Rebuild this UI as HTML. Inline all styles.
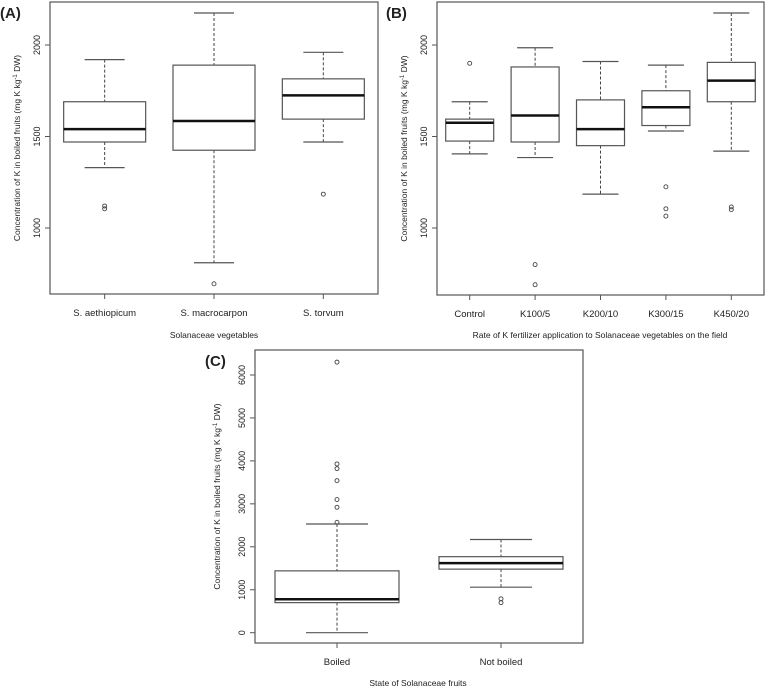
<!DOCTYPE html>
<html><head><meta charset="utf-8"><style>
body{margin:0;background:#fff;}
svg text{font-family:"Liberation Sans",sans-serif;fill:#222;}
</style></head><body>
<svg id="s" width="767" height="689" xmlns="http://www.w3.org/2000/svg"></svg>
<script>
// Panel A data
const catsA=["S. aethiopicum","S. macrocarpon","S. torvum"];
const statsA=[[1330,1470,1540,1690,1920],[810,1425,1585,1890,2175],[1470,1595,1725,1815,1960]];
const outA=[[1120,1105],[695],[1185]];
const ticksA=[1000,1500,2000];
// Panel B data
const catsB=["Control","K100/5","K200/10","K300/15","K450/20"];
const statsB=[[1405,1475,1575,1595,1690],[1385,1470,1615,1880,1985],[1185,1450,1540,1700,1910],[1530,1560,1660,1750,1890],[1420,1690,1805,1905,2175]];
const outB=[[1900],[800,690],[],[1225,1105,1065],[1115,1100]];
const ticksB=[1000,1500,2000];
// Panel C data
const catsC=["Boiled","Not boiled"];
const statsC=[[0,700,780,1440,2530],[1060,1480,1620,1770,2170]];
const outC=[[6300,3930,3820,3540,3100,2920,2570],[790,700]];
const ticksC=[0,1000,2000,3000,4000,5000,6000];

const svg=document.getElementById('s');
const NS="http://www.w3.org/2000/svg";
function mk(tag,at,name,parent){const e=document.createElementNS(NS,tag);for(const k in at)e.setAttribute(k,at[k]);


(parent||svg).appendChild(e);return e;}
function panel(p){
 const g=mk('g',{},'panel-'+p.id);
 const y=v=>p.y0+(p.v0-v)*p.k;
 const step=(p.x1-p.x0)/p.cats.length;
 const x=i=>p.x0+step*(i+0.5);
 mk('rect',{x:p.x0,y:p.top,width:p.x1-p.x0,height:p.bot-p.top,fill:'none',stroke:'#555','stroke-width':1.2},'plot-frame',g);
 p.ticks.forEach(t=>{const yy=y(t);
  mk('line',{x1:p.x0-5,x2:p.x0,y1:yy,y2:yy,stroke:'#555'},'y-tick',g);
  const tx=mk('text',{x:p.x0-10,y:yy,'font-size':9,'text-anchor':'middle',transform:`rotate(-90 ${p.x0-10} ${yy})`},'y-tick-label',g);tx.textContent=t;});
 p.cats.forEach((c,i)=>{const cx=x(i),s=p.stats[i],hw=p.hw,cw=p.cw;
  mk('line',{x1:cx,x2:cx,y1:p.bot,y2:p.bot+5,stroke:'#555'},'x-tick',g);
  const tl=mk('text',{x:cx,y:p.bot+22,'font-size':9.5,'text-anchor':'middle'},'x-tick-label',g);tl.textContent=c;
  mk('line',{x1:cx,x2:cx,y1:y(s[4]),y2:y(s[3]),stroke:'#444','stroke-dasharray':'3,2'},'upper-whisker',g);
  mk('line',{x1:cx,x2:cx,y1:y(s[1]),y2:y(s[0]),stroke:'#444','stroke-dasharray':'3,2'},'lower-whisker',g);
  mk('line',{x1:cx-cw,x2:cx+cw,y1:y(s[4]),y2:y(s[4]),stroke:'#555','stroke-width':1.2},'whisker-cap',g);
  mk('line',{x1:cx-cw,x2:cx+cw,y1:y(s[0]),y2:y(s[0]),stroke:'#555','stroke-width':1.2},'whisker-cap',g);
  mk('rect',{x:cx-hw,y:y(s[3]),width:2*hw,height:y(s[1])-y(s[3]),fill:'#fff',stroke:'#555','stroke-width':1.2},'box-'+c.toLowerCase().replace(/[^a-z0-9]+/g,'-'),g);
  mk('line',{x1:cx-hw,x2:cx+hw,y1:y(s[2]),y2:y(s[2]),stroke:'#111','stroke-width':2.5},'median-line',g);
  p.out[i].forEach(o=>mk('circle',{cx:cx,cy:y(o),r:2,fill:'none',stroke:'#444','stroke-width':0.9},'outlier',g));
 });
 const yt=mk('text',{x:p.ytx,y:(p.top+p.bot)/2,'font-size':8.5,'text-anchor':'middle',transform:`rotate(-90 ${p.ytx} ${(p.top+p.bot)/2})`},'y-axis-title',g);
 yt.innerHTML='Concentration of K in boiled fruits (mg K kg<tspan dy="-3" font-size="6">-1</tspan><tspan dy="3"> DW)</tspan>';
 const xt=mk('text',{x:p.xtx,y:p.xty,'font-size':8.5,'text-anchor':'middle'},'x-axis-title',g);xt.textContent=p.xtitle;
 const lb=mk('text',{x:p.lx,y:p.ly,'font-size':15,'font-weight':'bold'},'panel-label',g);lb.textContent=p.label;
}
panel({id:'a',cats:catsA,stats:statsA,out:outA,ticks:ticksA,x0:50,x1:378,top:2,bot:294,y0:45,v0:2000,k:0.183,hw:41,cw:20,ytx:20,xtx:214,xty:338,xtitle:'Solanaceae vegetables',label:'(A)',lx:0,ly:18});
panel({id:'b',cats:catsB,stats:statsB,out:outB,ticks:ticksB,x0:437,x1:764,top:2,bot:295,y0:45,v0:2000,k:0.183,hw:24,cw:18,ytx:407,xtx:600,xty:338,xtitle:'Rate of K fertilizer application to Solanaceae vegetables on the field',label:'(B)',lx:386,ly:18});
panel({id:'c',cats:catsC,stats:statsC,out:outC,ticks:ticksC,x0:255,x1:583,top:350,bot:643,y0:632.7,v0:0,k:0.04295,hw:62,cw:31,ytx:220,xtx:418,xty:686,xtitle:'State of Solanaceae fruits',label:'(C)',lx:205,ly:366});
</script>
</body></html>
